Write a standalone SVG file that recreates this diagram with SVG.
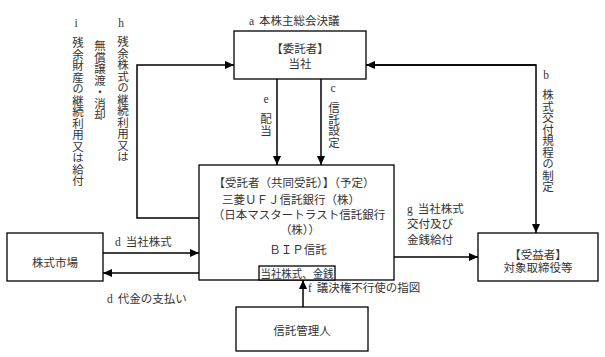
<svg xmlns="http://www.w3.org/2000/svg" width="605" height="357" viewBox="0 0 605 357">
<defs>
<marker id="ah" markerUnits="userSpaceOnUse" markerWidth="9" markerHeight="8" refX="9" refY="4" orient="auto">
<path d="M0,0 L9,4 L0,8 z" fill="#000"/>
</marker>
<style>
.box{fill:#fff;stroke:#000;stroke-width:1.3}
.ln{fill:none;stroke:#000;stroke-width:1.5}
text{font-family:"Liberation Serif","Noto Sans CJK JP",serif;font-size:11.5px;fill:#333}
.c{text-anchor:middle}
.v{writing-mode:vertical-rl}
</style>
</defs>
<rect width="605" height="357" fill="#fff"/>
<g id="connectors">
<path class="ln" d="M199,218 H137 V65 H234" marker-end="url(#ah)"/>
<path class="ln" d="M366,65 H536 V233" marker-end="url(#ah)"/>
<path class="ln" d="M536,65 H366" marker-end="url(#ah)"/>
<path class="ln" d="M277,79 V165" marker-end="url(#ah)"/>
<path class="ln" d="M321,79 V165" marker-end="url(#ah)"/>
<path class="ln" d="M103,253 H199" marker-end="url(#ah)"/>
<path class="ln" d="M199,273 H103" marker-end="url(#ah)"/>
<path class="ln" d="M394,257 H478" marker-end="url(#ah)"/>
<path class="ln" d="M303,307 V280" marker-end="url(#ah)"/>
</g>
<g id="labels">
<text x="249" y="25">a<tspan dx="5">本株主総会決議</tspan></text>
<text x="546" y="79" class="c">b</text>
<text x="547" y="89" class="v">株式交付規程の制定</text>
<text x="333" y="92" class="c">c</text>
<text x="333" y="102" class="v">信託設定</text>
<text x="266" y="103" class="c">e</text>
<text x="265" y="113" class="v">配当</text>
<text x="121" y="27" class="c">h</text>
<text x="122" y="36" class="v">残余株式の継続利用又は</text>
<text x="99" y="40" class="v">無償譲渡・消却</text>
<text x="76" y="27" class="c">i</text>
<text x="77" y="37" class="v">残余財産の継続利用又は給付</text>
<text x="115" y="246">d<tspan dx="5">当社株式</tspan></text>
<text x="107" y="303">d<tspan dx="5">代金の支払い</tspan></text>
<text x="407" y="213">g<tspan dx="5">当社株式</tspan></text>
<text x="407" y="228">交付及び</text>
<text x="407" y="244">金銭給付</text>
<text x="308" y="292">f<tspan dx="5">議決権不行使の指図</tspan></text>
</g>
<g id="itakusha">
<rect class="box" x="234" y="31" width="132" height="48"/>
<text x="300" y="53" class="c">【委託者】</text>
<text x="300" y="68" class="c">当社</text>
</g>
<g id="jutakusha">
<rect class="box" x="199" y="165" width="195" height="115"/>
<text x="294" y="187" class="c">【受託者（共同受託）】（予定）</text>
<text x="291" y="204" class="c">三菱ＵＦＪ信託銀行（株）</text>
<text x="299" y="219" class="c">（日本マスタートラスト信託銀行</text>
<text x="300" y="234" class="c">（株））</text>
<text x="298" y="254" class="c">ＢＩＰ信託</text>
<rect class="box" x="259" y="266" width="76" height="14"/>
<text x="297" y="277.5" class="c" textLength="73" lengthAdjust="spacingAndGlyphs">当社株式、金銭</text>
</g>
<g id="market">
<rect class="box" x="7" y="233" width="96" height="48"/>
<text x="55" y="267" class="c">株式市場</text>
</g>
<g id="jueki">
<rect class="box" x="478" y="233" width="120" height="48"/>
<text x="538" y="259" class="c">【受益者】</text>
<text x="538" y="272" class="c">対象取締役等</text>
</g>
<g id="kanri">
<rect class="box" x="236" y="307" width="132" height="44"/>
<text x="302" y="335" class="c">信託管理人</text>
</g>
</svg>
